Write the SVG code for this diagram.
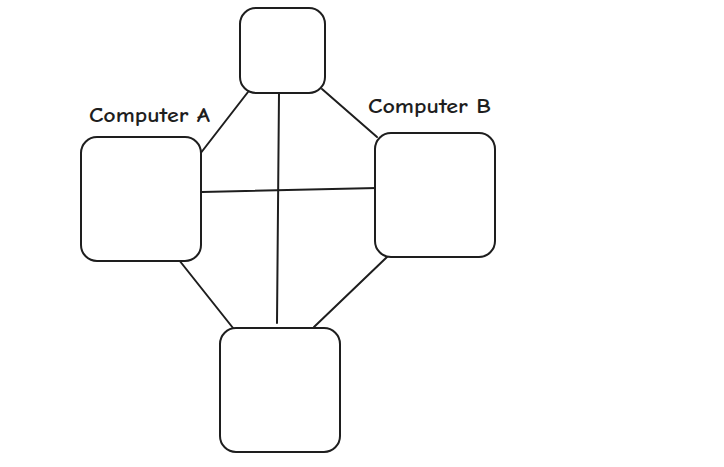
<svg xmlns="http://www.w3.org/2000/svg" width="724" height="467" viewBox="0 0 724 467">
<style>
.node{fill:#ffffff;stroke:#1e1e1e;stroke-width:2}
.edge{stroke:#1e1e1e;stroke-width:2;fill:none;stroke-linecap:round}
.label{font-family:"Comic Neue","Liberation Sans",sans-serif;font-size:21px;font-weight:bold;fill:#1e1e1e}
</style>
<rect width="724" height="467" fill="#ffffff"/>
<g id="connectors">
<line class="edge" x1="248" y1="92" x2="200" y2="154"/>
<line class="edge" x1="279" y1="93" x2="277" y2="323"/>
<line class="edge" x1="322" y1="89" x2="377" y2="137"/>
<line class="edge" x1="202" y1="192" x2="377" y2="188"/>
<line class="edge" x1="179" y1="260" x2="233" y2="328"/>
<line class="edge" x1="387" y1="257" x2="314" y2="327"/>
</g>
<g id="node-top">
<rect class="node" x="240" y="8" width="85" height="85" rx="16"/>
</g>
<g id="node-a">
<rect class="node" x="81" y="137" width="120" height="124" rx="16"/>
<text class="label" x="89" y="122" textLength="121" lengthAdjust="spacingAndGlyphs">Computer A</text>
</g>
<g id="node-b">
<rect class="node" x="375" y="133" width="120" height="124" rx="16"/>
<text class="label" x="368" y="113" textLength="123" lengthAdjust="spacingAndGlyphs">Computer B</text>
</g>
<g id="node-bottom">
<rect class="node" x="220" y="328" width="120" height="124" rx="16"/>
</g>
</svg>
